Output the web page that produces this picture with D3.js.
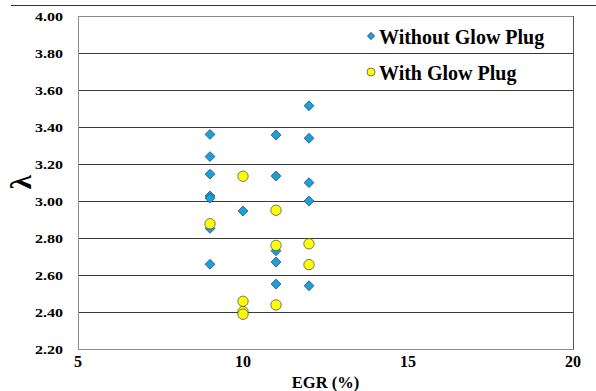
<!doctype html>
<html>
  <head>
    <meta charset="utf-8">
    <title>Lambda vs EGR</title>
    <style>
      body { margin: 0; background: #fff; }
      svg { display: block; }
      text { font-family: "Liberation Serif", "Times New Roman", serif; font-weight: bold; fill: #000; }
      .grid line { stroke: #3a3a3a; shape-rendering: crispEdges; }
    </style>
  </head>
  <body>
    <div id="chart"></div>
    <script src="https://cdn.jsdelivr.net/npm/d3@7"></script>
    <script>
      // values
      var egrWithout = [9, 9, 9, 9, 9, 9, 9, 10, 11, 11, 11, 11, 11, 12, 12, 12, 12, 12];
      var lambdaWithout = [3.36, 3.24, 3.145, 3.027, 3.015, 2.852, 2.658, 2.946,
                           3.357, 3.135, 2.731, 2.670, 2.551,
                           3.515, 3.339, 3.099, 3.0, 2.542];
      var egrWith = [9, 10, 10, 10, 10, 11, 11, 11, 12, 12];
      var lambdaWith = [2.877, 3.134, 2.458, 2.402, 2.388, 2.95, 2.76, 2.438, 2.769, 2.656];
      var xTicks = [5, 10, 15, 20];
      var yTicks = [2.2, 2.4, 2.6, 2.8, 3.0, 3.2, 3.4, 3.6, 3.8, 4.0];
      var seriesNames = ['Without Glow Plug', 'With Glow Plug'];

      (function() {
        var width = 596, height = 391;
        var plotLeft = 78, plotRight = 573, plotTop = 16, plotBottom = 349;

        var x = d3.scaleLinear().domain([5, 20]).range([plotLeft, plotRight]);
        var y = d3.scaleLinear().domain([2.2, 4.0]).range([plotBottom, plotTop]);

        var svg = d3.select('#chart').append('svg')
          .attr('width', width)
          .attr('height', height);

        // outer frame top edge
        svg.append('line')
          .attr('x1', 11).attr('x2', width).attr('y1', 5.5).attr('y2', 5.5)
          .attr('stroke', '#333');

        // gridlines
        svg.append('g').attr('class', 'grid')
          .selectAll('line').data(yTicks.slice(1, -1)).enter()
          .append('line')
          .attr('x1', plotLeft).attr('x2', plotRight)
          .attr('y1', function(d) { return Math.round(y(d)) + 0.5; })
          .attr('y2', function(d) { return Math.round(y(d)) + 0.5; });

        // plot border
        svg.append('rect')
          .attr('x', plotLeft + 0.5).attr('y', plotTop + 0.5)
          .attr('width', plotRight - plotLeft).attr('height', plotBottom - plotTop)
          .attr('fill', 'none').attr('stroke', '#8a8a8a');
        svg.append('line')
          .attr('x1', plotRight + 0.5).attr('x2', plotRight + 0.5)
          .attr('y1', plotTop).attr('y2', plotBottom)
          .attr('stroke', '#555');

        // y tick labels (squashed vertically as in the picture)
        svg.append('g').selectAll('g').data(yTicks).enter()
          .append('g')
          .attr('transform', function(d) { return 'translate(63,' + (y(d) + 4.5) + ') scale(1,0.72)'; })
          .append('text')
          .attr('text-anchor', 'end')
          .style('font-size', '16px')
          .text(function(d) { return d3.format('.2f')(d); });

        // x tick labels
        svg.append('g').selectAll('text').data(xTicks).enter()
          .append('text')
          .attr('x', function(d) { return x(d); })
          .attr('y', 367)
          .attr('text-anchor', 'middle')
          .style('font-size', '16px')
          .text(function(d) { return d; });

        // axis titles
        svg.append('text')
          .attr('x', (plotLeft + plotRight) / 2).attr('y', 388)
          .attr('text-anchor', 'middle')
          .style('font-size', '16.5px')
          .text('EGR (%)');

        svg.append('text')
          .attr('transform', 'translate(31,182) rotate(-90)')
          .attr('text-anchor', 'middle')
          .style('font-size', '29px')
          .text('λ');

        var diamond = d3.symbol().type(d3.symbolDiamond2).size(62);
        var blue = '#1a9fdf';

        // Without glow plug
        svg.append('g').selectAll('path').data(egrWithout).enter()
          .append('path')
          .attr('d', diamond)
          .attr('transform', function(d, i) { return 'translate(' + x(d) + ',' + y(lambdaWithout[i]) + ')'; })
          .attr('fill', blue)
          .attr('stroke', '#2b4b5c')
          .attr('stroke-width', 0.8);

        // With glow plug
        svg.append('g').selectAll('circle').data(egrWith).enter()
          .append('circle')
          .attr('cx', function(d) { return x(d); })
          .attr('cy', function(d, i) { return y(lambdaWith[i]); })
          .attr('r', 5.2)
          .attr('fill', '#ffff00')
          .attr('stroke', '#555')
          .attr('stroke-width', 0.8);

        // legend
        var legend = svg.append('g');
        legend.append('path')
          .attr('d', d3.symbol().type(d3.symbolDiamond2).size(34))
          .attr('transform', 'translate(371,36)')
          .attr('fill', blue).attr('stroke', '#2b4b5c').attr('stroke-width', 0.8);
        legend.append('circle')
          .attr('cx', 371).attr('cy', 72).attr('r', 4)
          .attr('fill', '#ffff00').attr('stroke', '#555').attr('stroke-width', 0.8);
        legend.selectAll('text').data(seriesNames).enter()
          .append('text')
          .attr('x', 379)
          .attr('y', function(d, i) { return 44 + i * 35.5; })
          .style('font-size', '20px')
          .text(function(d) { return d; });
      })();
    </script>
  </body>
</html>
